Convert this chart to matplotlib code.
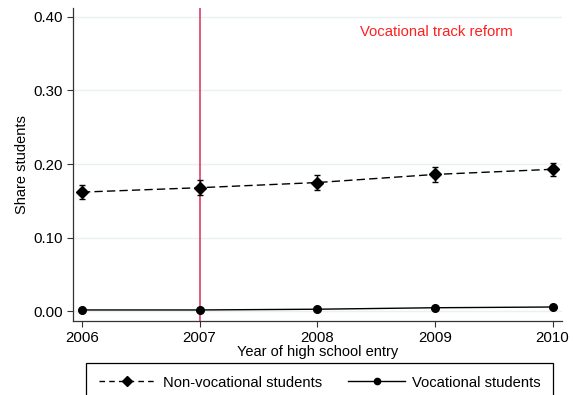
import matplotlib
matplotlib.use("Agg")
import matplotlib.pyplot as plt
import numpy as np

plt.rcParams['font.family'] = ['Liberation Sans', 'DejaVu Sans']

# Data
years = [2006, 2007, 2008, 2009, 2010]
non_vocational = [0.162, 0.168, 0.175, 0.186, 0.193]
non_vocational_err = [0.010, 0.010, 0.010, 0.010, 0.009]
vocational = [0.002, 0.002, 0.003, 0.005, 0.006]
y_ticks = [0.0, 0.1, 0.2, 0.3, 0.4]
reform_year = 2007
reform_label = "Vocational track reform"

fig = plt.figure(figsize=(5.73, 3.95), dpi=100)
ax = fig.add_axes([73 / 573, 1 - 321 / 395, (562 - 73) / 573, (321 - 8) / 395])

# light horizontal grid
for t in y_ticks:
    ax.axhline(t, color='#eaf1f3', linewidth=1.0, zorder=0)

ax.axvline(reform_year, color='#d8305c', linewidth=1.1, zorder=1)

nv = ax.errorbar(years, non_vocational, yerr=non_vocational_err, color='black',
                 linestyle=(0, (6, 3)), linewidth=1.0, marker='D', markersize=6,
                 capsize=2.5, elinewidth=1.0, capthick=1.0, zorder=3)
voc, = ax.plot(years, vocational, color='black', linestyle='-', linewidth=1.0,
               marker='o', markersize=5.5, zorder=3)

ax.text(2008.36, 0.379, reform_label, color='#ff2020', fontsize=10.7,
        ha='left', va='center')

ax.set_xlim(2005.924, 2010.08)
ax.set_ylim(-0.013, 0.412)
ax.set_xticks(years)
ax.set_yticks(y_ticks)
ax.set_yticklabels([f"{t:.2f}" for t in y_ticks])
ax.tick_params(labelsize=10.8, length=4, width=0.8, color='#333333')
ax.set_xlabel("Year of high school entry", fontsize=10.5, labelpad=0)
ax.set_ylabel("Share students", fontsize=10.5, labelpad=3)

for side in ['top', 'right']:
    ax.spines[side].set_visible(False)
for side in ['left', 'bottom']:
    ax.spines[side].set_linewidth(0.9)
    ax.spines[side].set_color('#333333')

# legend handles: dashed line with diamond, solid line with dot
h_nv = plt.Line2D([], [], color='black', linestyle=(0, (4, 3)), linewidth=1.0,
                  marker='D', markersize=5)
h_voc = plt.Line2D([], [], color='black', linestyle='-', linewidth=1.0,
                   marker='o', markersize=4.5)
leg = fig.legend([h_nv, h_voc], ["Non-vocational students", "Vocational students"],
                 loc='upper left', ncol=2, mode='expand', borderaxespad=0,
                 bbox_to_anchor=(86 / 573, -0.2, (553 - 86) / 573, 0.2 + 1 - 363 / 395),
                 fontsize=10.6, handlelength=3.9, handletextpad=0.45,
                 borderpad=0.85, fancybox=False, edgecolor='black',
                 framealpha=1, columnspacing=1.5)
leg.get_frame().set_linewidth(0.9)

fig.savefig("out.png", dpi=100)
